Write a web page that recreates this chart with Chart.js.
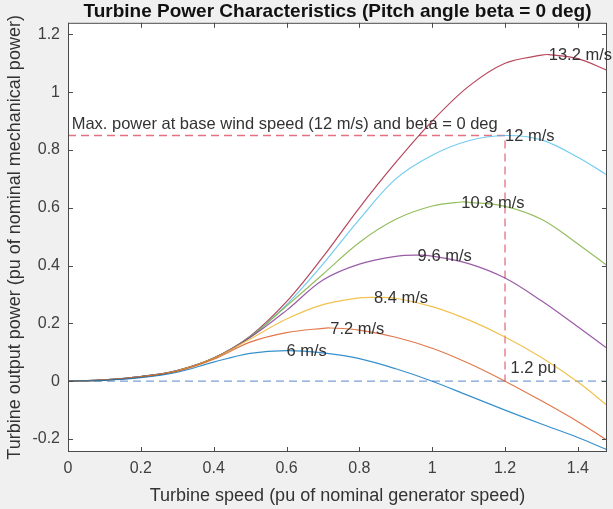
<!DOCTYPE html>
<html>
<head>
<meta charset="utf-8">
<script src="https://cdn.jsdelivr.net/npm/chart.js@4.4.1/dist/chart.umd.min.js"></script>
<style>
  html, body { margin: 0; padding: 0; background: #f0f0f0; }
</style>
</head>
<body>
<canvas id="chart" width="613" height="509"></canvas>
<script>
// turbine speed grid (pu of nominal generator speed)
const speeds = [0, 0.1, 0.2, 0.3, 0.4, 0.5, 0.6, 0.7, 0.8, 0.9, 1.0, 1.1, 1.2, 1.3, 1.4, 1.48];

// output power (pu) for each wind speed
const power6   = [0, 0.003, 0.012, 0.031, 0.066, 0.096, 0.106, 0.098, 0.078, 0.043, 0.0, -0.05, -0.1, -0.148, -0.195, -0.237];
const power7_2 = [0, 0.004, 0.014, 0.034, 0.076, 0.135, 0.168, 0.183, 0.177, 0.152, 0.114, 0.062, 0.0, -0.068, -0.14, -0.204];
const power8_4 = [0, 0.004, 0.015, 0.036, 0.079, 0.146, 0.215, 0.265, 0.288, 0.287, 0.258, 0.212, 0.153, 0.082, -0.003, -0.083];
const power9_6 = [0, 0.005, 0.016, 0.037, 0.08, 0.151, 0.245, 0.35, 0.405, 0.432, 0.433, 0.407, 0.357, 0.278, 0.188, 0.114];
const power10_8 = [0, 0.005, 0.016, 0.037, 0.08, 0.153, 0.26, 0.37, 0.48, 0.56, 0.606, 0.619, 0.605, 0.56, 0.475, 0.40];
const power12  = [0, 0.005, 0.016, 0.037, 0.08, 0.154, 0.265, 0.405, 0.56, 0.7, 0.782, 0.832, 0.85, 0.835, 0.775, 0.713];
const power13_2 = [0, 0.005, 0.016, 0.037, 0.08, 0.156, 0.275, 0.43, 0.6, 0.757, 0.9, 1.02, 1.1, 1.128, 1.116, 1.076];

const windLabels = ['6 m/s', '7.2 m/s', '8.4 m/s', '9.6 m/s', '10.8 m/s', '12 m/s', '13.2 m/s'];
const peakSpeed = [0.6, 0.72, 0.84, 0.96, 1.08, 1.2, 1.32];
const peakPower = [0.106, 0.184, 0.29, 0.436, 0.62, 0.85, 1.13];
const lineColors = ['#0072BD', '#D95319', '#EDB120', '#7E2F8E', '#77AC30', '#4DBEEE', '#A2142F'];

const baseSpeed = 1.2;
const basePower = 0.85;
const maxSpeed = 1.48;

const allPower = [power6, power7_2, power8_4, power9_6, power10_8, power12, power13_2];

// grid points plus the peak point of each curve
function curve(power, i) {
  const pts = speeds.map((s, k) => ({ x: s, y: power[k] }));
  const same = pts.find(p => Math.abs(p.x - peakSpeed[i]) < 1e-9);
  if (same) same.y = peakPower[i];
  else pts.push({ x: peakSpeed[i], y: peakPower[i] });
  return pts.sort((a, b) => a.x - b.x);
}

const datasets = allPower.map((p, i) => ({
  label: windLabels[i],
  data: curve(p, i),
  borderColor: lineColors[i] + 'c8',
  borderWidth: 1.2,
  pointRadius: 0,
  tension: 0.35,
  fill: false,
}));

// dashed guides: max power at base speed, and the zero line
datasets.push({
  label: 'max power',
  data: [{ x: 0, y: basePower }, { x: baseSpeed, y: basePower }, { x: baseSpeed, y: 0 }],
  borderColor: '#e3717f',
  borderWidth: 1.3,
  borderDash: [8, 5],
  pointRadius: 0,
});
datasets.push({
  label: 'zero',
  data: [{ x: 0, y: 0 }, { x: maxSpeed, y: 0 }],
  borderColor: '#7a9fd8',
  borderWidth: 1.3,
  borderDash: [8, 5],
  pointRadius: 0,
});

const xTicks = [0, 0.2, 0.4, 0.6, 0.8, 1, 1.2, 1.4];
const yTicks = [-0.2, 0, 0.2, 0.4, 0.6, 0.8, 1, 1.2];

const textFont = '16.5px "Liberation Sans", Arial, sans-serif';

// white axes area, box with inward ticks, and text labels
const axesDecor = {
  id: 'axesDecor',
  beforeDraw(chart) {
    const { ctx, chartArea: a } = chart;
    ctx.save();
    ctx.fillStyle = '#f0f0f0';
    ctx.fillRect(0, 0, chart.width, chart.height);
    ctx.fillStyle = '#ffffff';
    ctx.fillRect(a.left, a.top, a.right - a.left, a.bottom - a.top);
    ctx.restore();
  },
  afterDatasetsDraw(chart) {
    const { ctx, chartArea: a, scales: { x, y } } = chart;
    ctx.save();
    ctx.strokeStyle = '#4a4a4a';
    ctx.lineWidth = 1;
    ctx.strokeRect(a.left + 0.5, a.top + 0.5, a.right - a.left - 1, a.bottom - a.top - 1);
    const tl = 5;
    ctx.beginPath();
    xTicks.forEach(v => {
      const px = Math.round(x.getPixelForValue(v)) + 0.5;
      ctx.moveTo(px, a.bottom); ctx.lineTo(px, a.bottom - tl);
      ctx.moveTo(px, a.top); ctx.lineTo(px, a.top + tl);
    });
    yTicks.forEach(v => {
      const py = Math.round(y.getPixelForValue(v)) + 0.5;
      ctx.moveTo(a.left, py); ctx.lineTo(a.left + tl, py);
      ctx.moveTo(a.right, py); ctx.lineTo(a.right - tl, py);
    });
    ctx.stroke();

    ctx.fillStyle = '#333333';
    ctx.font = textFont;
    ctx.textAlign = 'left';
    ctx.textBaseline = 'middle';
    windLabels.forEach((t, i) => {
      ctx.fillText(t, x.getPixelForValue(peakSpeed[i]), y.getPixelForValue(peakPower[i]) + 1);
    });
    ctx.fillText('Max. power at base wind speed (12 m/s) and beta = 0 deg',
      x.getPixelForValue(0.01), y.getPixelForValue(basePower + 0.04));
    ctx.fillText('1.2 pu', x.getPixelForValue(baseSpeed + 0.015), y.getPixelForValue(0.045));
    ctx.restore();
  }
};

const fmt = v => String(+v.toFixed(2));

new Chart(document.getElementById('chart'), {
  type: 'line',
  data: { datasets },
  plugins: [axesDecor],
  options: {
    responsive: false,
    animation: false,
    layout: { padding: { left: 0, right: 6, top: 0, bottom: 0 } },
    plugins: {
      legend: { display: false },
      tooltip: { enabled: false },
      title: {
        display: true,
        fullSize: false,
        text: 'Turbine Power Characteristics (Pitch angle beta = 0 deg)',
        color: '#111111',
        font: { family: '"Liberation Sans", Arial, sans-serif', size: 19, weight: 'bold' },
        padding: { top: 0, bottom: 0 },
      },
    },
    scales: {
      x: {
        type: 'linear',
        min: 0,
        max: maxSpeed,
        grid: { display: false, drawTicks: false },
        border: { display: false },
        ticks: {
          stepSize: 0.2,
          includeBounds: false,
          padding: 7,
          maxRotation: 0,
          color: '#404040',
          font: { family: '"Liberation Sans", Arial, sans-serif', size: 16 },
          callback: fmt,
        },
        title: {
          display: true,
          text: 'Turbine speed (pu of nominal generator speed)',
          color: '#333333',
          padding: { top: 2, bottom: 2 },
          font: { family: '"Liberation Sans", Arial, sans-serif', size: 18 },
        },
        afterFit: s => { s.height = 57; },
      },
      y: {
        min: -0.245,
        max: 1.24,
        grid: { display: false, drawTicks: false },
        border: { display: false },
        ticks: {
          stepSize: 0.2,
          includeBounds: false,
          padding: 8,
          color: '#404040',
          font: { family: '"Liberation Sans", Arial, sans-serif', size: 16 },
          callback: fmt,
        },
        title: {
          display: true,
          text: 'Turbine output power (pu of nominal mechanical power)',
          color: '#333333',
          padding: { top: 4, bottom: 4 },
          font: { family: '"Liberation Sans", Arial, sans-serif', size: 18 },
        },
        afterFit: s => { s.width = 68; },
      },
    },
  },
});
</script>
</body>
</html>
